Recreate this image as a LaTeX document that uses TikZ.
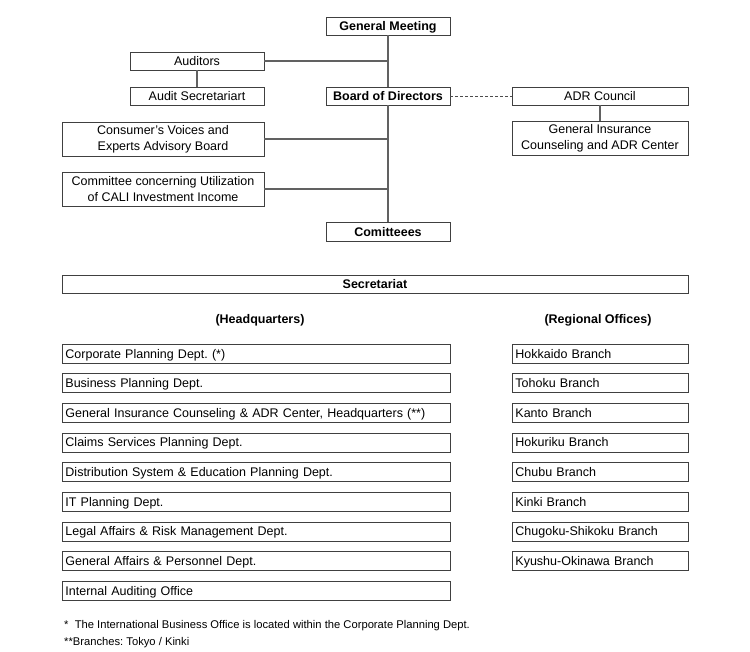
\documentclass[tikz,border=0pt]{standalone}
\usepackage{fontspec}
\setmainfont{Liberation Sans}
\begin{document}
\frenchspacing
\begin{tikzpicture}[x=1pt,y=-1pt,
  every node/.style={font=\fontsize{12.5}{14.5}\selectfont},
  frame/.style={draw=black!75, line width=0.9pt, inner sep=0pt},
  box/.style={frame, align=center, text height=9pt, text depth=0pt},
  box2/.style={frame, align=center, font=\fontsize{12.5}{16}\selectfont, minimum height=34},
  bbox/.style={box, font=\fontsize{12.5}{14.5}\selectfont\bfseries},
  lbox/.style={frame, inner xsep=3pt, inner ysep=0pt, align=left, anchor=west, text height=9pt, text depth=0pt},
  conn/.style={draw=black!62, line width=1.2pt},
  plain/.style={inner sep=0pt}]
\useasboundingbox (0,0) rectangle (750,651);
% top part
\node[bbox, minimum width=124, minimum height=18] (gm) at (388,26) {General Meeting};
\node[bbox, minimum width=124, minimum height=18] (bod) at (388,96) {Board of Directors};
\node[bbox, minimum width=124, minimum height=19] (com) at (388,231.5) {Comitteees};
\node[box, minimum width=134, minimum height=18] (aud) at (197,61) {Auditors};
\node[box, minimum width=134, minimum height=18] (audsec) at (197,96) {Audit Secretariart};
\node[box2, minimum width=202] (cv) at (163,139) {Consumer's Voices and\\Experts Advisory Board};
\node[box2, minimum width=202] (cali) at (163,189) {Committee concerning Utilization\\of CALI Investment Income};
\node[box, minimum width=176, minimum height=18] (adr) at (600,96) {ADR Council};
\node[box2, minimum width=176] (gic) at (600,138) {General Insurance\\Counseling and ADR Center};
\coordinate (va) at (388,61);
\coordinate (vb) at (388,139);
\coordinate (vc) at (388,189);
\draw[conn] (gm.south) -- (bod.north);
\draw[conn] (bod.south) -- (com.north);
\draw[conn] (aud.east) -- (va);
\draw[conn] (aud.south) -- (audsec.north);
\draw[conn] (cv.east) -- (vb);
\draw[conn] (cali.east) -- (vc);
\draw[conn, draw=black!70, line width=1pt, dash pattern=on 3pt off 2pt] (bod.east) -- (adr.west);
\draw[conn] (adr.south) -- (gic.north);
% secretariat
\node[bbox, minimum width=626, minimum height=18] (sec) at (375,284) {Secretariat};
\node[plain, font=\fontsize{12.5}{14.5}\selectfont\bfseries] (hq) at (260,320) {(Headquarters)};
\node[plain, font=\fontsize{12.5}{14.5}\selectfont\bfseries] (ro) at (598,320) {(Regional Offices)};
% HQ
\foreach \i/\t in {0/{Corporate Planning Dept. (*)},1/{Business Planning Dept.},2/{General Insurance Counseling \& ADR Center, Headquarters (**)},3/{Claims Services Planning Dept.},4/{Distribution System \& Education Planning Dept.},5/{IT Planning Dept.},6/{Legal Affairs \& Risk Management Dept.},7/{General Affairs \& Personnel Dept.},8/{Internal Auditing Office}}{
  \node[lbox, text width=382, minimum height=19] (hq\i) at (62,353.5+29.66*\i) {\t};
}
\foreach \i/\t in {0/{Hokkaido Branch},1/{Tohoku Branch},2/{Kanto Branch},3/{Hokuriku Branch},4/{Chubu Branch},5/{Kinki Branch},6/{Chugoku-Shikoku Branch},7/{Kyushu-Okinawa Branch}}{
  \node[lbox, text width=170, minimum height=19] (ro\i) at (512,353.5+29.66*\i) {\t};
}
% footnotes
\node[plain, anchor=west, font=\fontsize{11.2}{13}\selectfont] (fn1) at (64,626) {*\ \ The International Business Office is located within the Corporate Planning Dept.};
\node[plain, anchor=west, font=\fontsize{11.2}{13}\selectfont] (fn2) at (64,643) {**Branches: Tokyo / Kinki};
\end{tikzpicture}
\end{document}
